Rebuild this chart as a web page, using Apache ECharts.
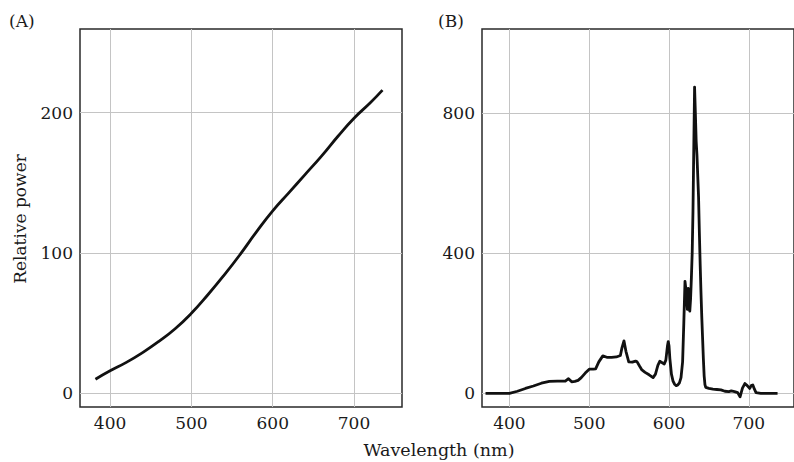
<!DOCTYPE html>
<html>
<head>
<meta charset="utf-8">
<script src="https://cdn.jsdelivr.net/npm/echarts@6/dist/echarts.min.js"></script>
<style>
html,body{margin:0;padding:0;background:#fff;}
#chart{width:794px;height:462px;}
</style>
</head>
<body>
<div id="chart"></div>
<script>
// Panel A: smooth relative power curve
const wavelengthsA = [382,400,420,440,460,480,500,520,540,560,580,600,620,640,660,680,700,720,735];
const powerA       = [10,16,22,29,37,46,57,70,84,99,115,130,143,156,169,183,196,207,216];

// Panel B: line spectrum
const wavelengthsB = [370,400,410,420,430,440,450,460,470,474,478,482,486,490,495,500,505,508,512,517,522,528,534,539,541,543.5,546,549.5,554,558,560,563,566,570,575,580,583,586,588.5,591,594,596,598,599,600,601,603,605,607,609,611,613,615,617,618.5,620,621,622,623,624,625,626,627,628,629,630,631,632,633,634,635,636,637,638,639,640,641,642,643,644,645,646,650,655,660,665,670,675,678,682,686,689,692,695,698,701,703,705,707,709,715,725,736];
const powerB       = [0,0,6,14,21,29,34,35,35,42,33,34,37,45,58,69,69,70,90,107,103,103,104,108,130,150,120,90,89,92,90,78,67,60,53,45,55,80,92,88,84,95,135,148,135,100,55,35,26,22,24,30,45,90,200,320,300,270,240,300,260,235,270,330,400,520,700,875,800,720,680,620,560,460,370,290,220,160,100,50,25,17,14,12,11,10,6,5,7,5,2,-10,15,28,22,14,22,24,12,2,0,0,0];

const xTicks = [400,500,600,700];
const yTicksA = [0,100,200];
const yTicksB = [0,400,800];

const FONT = 'DejaVu Serif';
const TXT = '#1a1a1a';

function pairs(xs, ys){ return xs.map((x,i)=>[x, ys[i]]); }

const chart = echarts.init(document.getElementById('chart'), null, {renderer:'svg'});

const gridStyle = {show:true, borderColor:'#2a2a2a', borderWidth:1.5, backgroundColor:'transparent'};
function xAxis(idx, min, max){
  return {
    type:'value', gridIndex:idx, min:min, max:max,
    axisLine:{show:false},
    axisTick:{show:false, customValues:xTicks},
    axisLabel:{customValues:xTicks, fontFamily:FONT, fontSize:17, color:TXT, margin:7},
    splitLine:{show:true, lineStyle:{color:'#c4c4c4', width:1}}
  };
}
function yAxis(idx, min, max, ticks){
  return {
    type:'value', gridIndex:idx, min:min, max:max,
    axisLine:{show:false},
    axisTick:{show:false, customValues:ticks},
    axisLabel:{customValues:ticks, fontFamily:FONT, fontSize:17, color:TXT, margin:7},
    splitLine:{show:true, lineStyle:{color:'#c4c4c4', width:1}}
  };
}

chart.setOption({
  animation:false,
  backgroundColor:'#fff',
  grid:[
    Object.assign({left:80, top:29, width:322, height:378}, gridStyle),
    Object.assign({left:482, top:29, width:318, height:378}, gridStyle)
  ],
  xAxis:[ xAxis(0, 363, 759), xAxis(1, 365.6, 756.6) ],
  yAxis:[ yAxis(0, -9.8, 259.6, yTicksA), yAxis(1, -39, 1041, yTicksB) ],
  series:[
    {type:'line', xAxisIndex:0, yAxisIndex:0, data:pairs(wavelengthsA, powerA), smooth:0.5,
     showSymbol:false, lineStyle:{color:'#111', width:2.8}},
    {type:'line', xAxisIndex:1, yAxisIndex:1, data:pairs(wavelengthsB, powerB), smooth:false,
     showSymbol:false, lineStyle:{color:'#111', width:2.8, join:'round'}}
  ],
  graphic:[
    {type:'text', left:9, top:12, style:{text:'(A)', font:'17px "DejaVu Serif"', fill:TXT}},
    {type:'text', left:438, top:12, style:{text:'(B)', font:'17px "DejaVu Serif"', fill:TXT}},
    {type:'text', x:19.5, y:219, rotation:Math.PI/2,
     style:{text:'Relative power', font:'17px "DejaVu Serif"', fill:TXT, align:'center', verticalAlign:'middle'}},
    {type:'text', x:439, y:450, style:{text:'Wavelength (nm)', font:'17.5px "DejaVu Serif"', fill:TXT, align:'center', verticalAlign:'middle'}}
  ]
});
</script>
</body>
</html>
